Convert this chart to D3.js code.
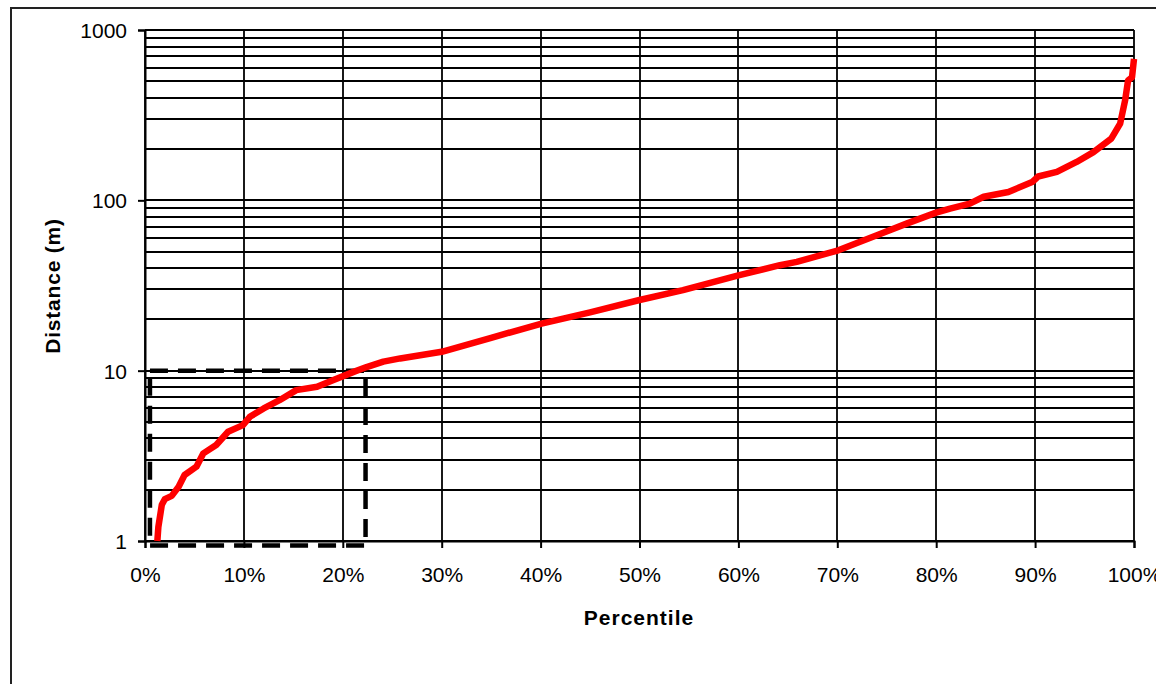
<!DOCTYPE html>
<html>
<head>
<meta charset="utf-8">
<script src="https://cdn.jsdelivr.net/npm/d3@7"></script>
<style>
  html, body { margin: 0; padding: 0; background: #fff; }
  svg { display: block; }
  text { font-family: "Liberation Sans", Arial, sans-serif; fill: #000; }
</style>
</head>
<body>
<svg id="chart" width="1156" height="684"></svg>
<script>
// ---- data ----
const percentiles = [1.25, 1.35, 1.7, 2.0, 2.7, 3.4, 4.0, 5.2, 5.9, 7.2, 8.4, 9.9, 10.6, 12.0, 13.6, 15.3, 17.4, 19.0, 21.1, 22.4, 24.1, 25.8, 30.0, 35.0, 40.1, 45.0, 50.0, 54.4, 60.0, 64.2, 65.9, 70.1, 74.0, 77.0, 80.0, 81.4, 83.4, 84.8, 87.3, 89.7, 90.3, 92.2, 94.2, 95.9, 97.7, 98.6, 99.1, 99.4, 99.8, 100];
const distances = [1.0, 1.21, 1.63, 1.76, 1.84, 2.08, 2.44, 2.73, 3.27, 3.66, 4.38, 4.79, 5.36, 6.0, 6.71, 7.69, 8.04, 8.79, 9.84, 10.5, 11.3, 11.8, 12.9, 15.6, 18.9, 22.0, 26.0, 29.7, 36.3, 41.6, 43.5, 50.9, 62.3, 73, 84.7, 89.4, 95.7, 105, 112, 128, 138, 147, 168, 192, 230, 282, 386, 505, 528, 677];
const xTicks = [0, 10, 20, 30, 40, 50, 60, 70, 80, 90, 100];
const yTicks = [1, 10, 100, 1000];
const boxPct = [0.5, 22.3];      // dashed highlight box, percentile extent
const boxDist = [0.94, 10];      // dashed highlight box, distance extent
const xTitle = "Percentile";
const yTitle = "Distance (m)";

// ---- layout ----
const svg = d3.select("#chart");
const x = d3.scaleLinear().domain([0, 100]).range([145, 1134]);
const y = d3.scaleLog().domain([1, 1000]).range([541, 30]);

// outer frame
svg.append("rect").attr("x", 11).attr("y", 8).attr("width", 1200).attr("height", 720)
  .attr("fill", "#fff").attr("stroke", "#222").attr("stroke-width", 2);

// minor/major horizontal gridlines (1..9 x decade)
const hGrid = [];
for (let d = 1; d < 1000; d *= 10) for (let k = 1; k <= 9; k++) hGrid.push(k * d);
hGrid.push(1000);
svg.append("g").selectAll("line").data(hGrid).join("line")
  .attr("x1", x(0)).attr("x2", x(100))
  .attr("y1", d => Math.round(y(d))).attr("y2", d => Math.round(y(d)))
  .attr("stroke", "#000").attr("stroke-width", 1.8);

// vertical gridlines
svg.append("g").selectAll("line").data(xTicks).join("line")
  .attr("x1", d => Math.round(x(d))).attr("x2", d => Math.round(x(d)))
  .attr("y1", y(1000)).attr("y2", y(1))
  .attr("stroke", "#000").attr("stroke-width", 1.8);

// axes
const xAxis = d3.axisBottom(x).tickValues(xTicks).tickFormat(d => d + "%").tickSize(7).tickPadding(20);
const gx = svg.append("g").attr("transform", `translate(0,${y(1)})`).call(xAxis);
gx.select(".domain").attr("stroke", "#000").attr("stroke-width", 2);
gx.selectAll(".tick line").attr("stroke", "#000").attr("stroke-width", 2);
gx.selectAll(".tick text").attr("font-size", 21).attr("font-family", "Liberation Sans, Arial, sans-serif")
  .attr("dy", null).attr("y", 41).attr("fill", "#000");

const yAxis = d3.axisLeft(y).tickValues(yTicks).tickFormat(d3.format("d")).tickSize(7).tickPadding(11);
const gy = svg.append("g").attr("transform", `translate(${x(0)},0)`).call(yAxis);
gy.select(".domain").attr("stroke", "#000").attr("stroke-width", 2);
gy.selectAll(".tick line").attr("stroke", "#000").attr("stroke-width", 2);
gy.selectAll(".tick text").attr("font-size", 21).attr("font-family", "Liberation Sans, Arial, sans-serif")
  .attr("dy", "0.36em").attr("fill", "#000");

// dashed highlight box
svg.append("rect")
  .attr("x", x(boxPct[0])).attr("y", y(boxDist[1]))
  .attr("width", x(boxPct[1]) - x(boxPct[0]))
  .attr("height", y(boxDist[0]) - y(boxDist[1]))
  .attr("fill", "none").attr("stroke", "#000").attr("stroke-width", 4.5)
  .attr("stroke-dasharray", "18,10");

// curve
const line = d3.line().x(d => x(d[0])).y(d => y(d[1]));
svg.append("path").datum(d3.zip(percentiles, distances))
  .attr("d", line).attr("fill", "none").attr("stroke", "#ff0000")
  .attr("stroke-width", 6.5).attr("stroke-linejoin", "round").attr("stroke-linecap", "butt");

// titles
svg.append("text").attr("x", 639).attr("y", 625).attr("text-anchor", "middle")
  .attr("font-size", 21).attr("font-weight", "bold").attr("letter-spacing", 1).text(xTitle);
svg.append("text").attr("transform", "translate(60,286) rotate(-90)").attr("text-anchor", "middle")
  .attr("font-size", 21).attr("font-weight", "bold").attr("letter-spacing", 0.8).text(yTitle);
</script>
</body>
</html>
